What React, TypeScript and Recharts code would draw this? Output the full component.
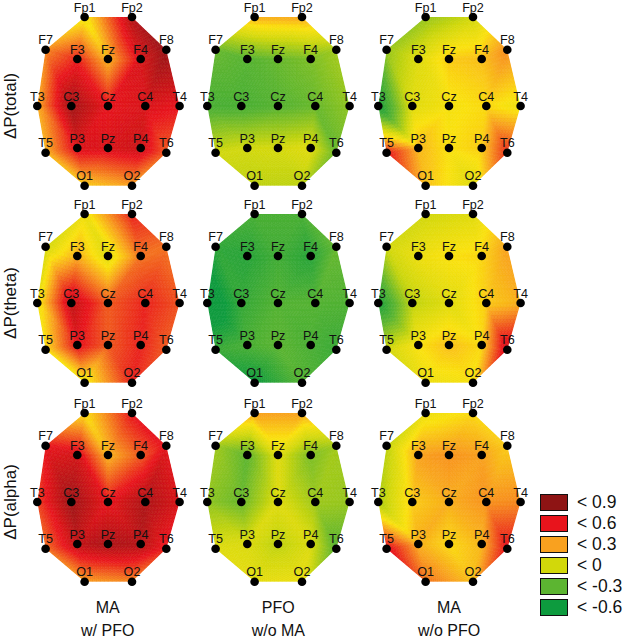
import { useId } from "react";
import { Scatter, ScatterChart, XAxis, YAxis } from "recharts";

// electrode layout, offsets from Cz
const electrodes = ["Fp1", "Fp2", "F7", "F3", "Fz", "F4", "F8", "T3", "C3", "Cz", "C4", "T4", "T5", "P3", "Pz", "P4", "T6", "O1", "O2"];
const electrodeX = [-23.4, 24, -62.4, -30.7, 0, 32.7, 58.3, -70.7, -36.7, 0, 37.3, 71.6, -62.4, -30.7, 0, 32.7, 58.3, -23.4, 24];
const electrodeY = [89, 89, 56.3, 47, 47, 47, 56.3, 0, 0, 0, 0, 0, -46.7, -42, -42, -42, -46.7, -79.7, -79.7];
const outline = ["Fp1", "Fp2", "F8", "T4", "T6", "O2", "O1", "T5", "T3", "F7"].map((n) => electrodes.indexOf(n));

// mesh the topography is shaded over
const mesh = [
  "Fp1 Fp2 Fz", "Fp1 Fz F3", "Fp1 F3 F7", "Fp2 F4 Fz", "Fp2 F8 F4",
  "F7 F3 C3", "F7 C3 T3", "F3 Cz C3", "F3 Fz Cz", "Fz F4 Cz", "F4 C4 Cz", "F4 F8 C4", "F8 T4 C4",
  "T3 C3 P3", "T3 P3 T5", "C3 Cz P3", "Cz Pz P3", "Cz P4 Pz", "Cz C4 P4", "C4 T6 P4", "C4 T4 T6",
  "T5 P3 O1", "P3 Pz O1", "Pz O2 O1", "Pz P4 O2", "P4 T6 O2",
].map((t) => t.split(" ").map((n) => electrodes.indexOf(n)));

const totalMaPfo = [-0.05, 0.62, 0.2, 0.42, 0.1, 0.5, 0.72, 0.12, 0.68, 0.45, 0.5, 0.45, 0.1, 0.5, 0.5, 0.55, 0.3, 0.05, 0.15];
const totalPfo = [0.12, 0.14, -0.42, -0.47, -0.42, -0.37, -0.27, -0.52, -0.52, -0.47, -0.42, -0.32, -0.15, -0.15, -0.14, -0.1, -0.42, -0.2, -0.2];
const totalMa = [-0.3, -0.15, -0.3, -0.1, 0.05, 0.08, 0.2, -0.72, -0.1, -0.02, 0.02, -0.05, 0.45, 0.1, 0, 0.05, 0.4, 0.08, -0.1];
const thetaMaPfo = [-0.05, 0.42, -0.15, 0.12, -0.1, 0.25, 0.25, -0.05, 0.58, 0.3, 0.42, 0.32, 0, 0.47, 0.3, 0.42, 0.3, -0.05, 0.42];
const thetaPfo = [-0.52, -0.52, -0.62, -0.65, -0.55, -0.65, -0.42, -0.9, -0.6, -0.48, -0.48, -0.5, -0.58, -0.52, -0.45, -0.52, -0.58, -0.75, -0.48];
const thetaMa = [-0.15, -0.1, -0.15, -0.05, 0, 0.03, 0.15, -0.7, -0.2, -0.1, 0.05, 0.12, -0.15, 0, 0.08, 0.02, 0.55, -0.05, -0.02];
const alphaMaPfo = [0, 0.45, 0.45, 0.52, 0.1, 0.3, 0.47, 0.35, 0.7, 0.45, 0.65, 0.5, 0.25, 0.58, 0.65, 0.62, 0.42, 0.15, 0.2];
const alphaPfo = [0.15, 0.15, -0.28, -0.45, -0.1, -0.37, -0.27, -0.32, -0.42, -0.1, -0.28, -0.3, -0.1, -0.12, -0.2, -0.12, -0.47, -0.08, -0.05];
const alphaMa = [-0.05, 0.02, -0.2, 0.15, 0.18, 0.15, 0.05, -0.25, 0.05, 0.12, 0.18, 0.2, 0.5, 0.12, 0.02, 0.1, 0.47, 0.25, 0.08];

const rows = [
  { label: "ΔP(total)", cy: 106, panels: [totalMaPfo, totalPfo, totalMa] },
  { label: "ΔP(theta)", cy: 303.3, panels: [thetaMaPfo, thetaPfo, thetaMa] },
  { label: "ΔP(alpha)", cy: 501.7, panels: [alphaMaPfo, alphaPfo, alphaMa] },
];
const columnCx = [107.7, 278.3, 449];
const columnTitles = [["MA", "w/ PFO"], ["PFO", "w/o MA"], ["MA", "w/o PFO"]];

const legendLabels = ["< 0.9", "< 0.6", "< 0.3", "< 0", "< -0.3", "< -0.6"];
const legendColors = ["#8e1414", "#e8141c", "#f9a11f", "#d2d80a", "#5cb531", "#0d9b3e"];

const colorStops: [number, number[]][] = [
  [-0.75, [13, 155, 62]],
  [-0.45, [92, 181, 49]],
  [-0.15, [210, 216, 10]],
  [0, [250, 225, 15]],
  [0.15, [249, 161, 31]],
  [0.45, [232, 20, 28]],
  [0.75, [142, 20, 20]],
];

function colorFor(v: number) {
  if (v <= colorStops[0][0]) return `rgb(${colorStops[0][1].join(",")})`;
  for (let i = 1; i < colorStops.length; i++) {
    const [v1, c1] = colorStops[i];
    if (v <= v1) {
      const [v0, c0] = colorStops[i - 1];
      const t = (v - v0) / (v1 - v0);
      return `rgb(${c0.map((c, k) => Math.round(c + (c1[k] - c) * t)).join(",")})`;
    }
  }
  return `rgb(${colorStops[colorStops.length - 1][1].join(",")})`;
}

const STEPS = 12;

// points come from the Scatter, already run through its axes
function Field({ points, values }: { points: { x: number; y: number }[]; values: number[] }) {
  const id = useId().replace(/:/g, "");
  const cells: any[] = [];
  mesh.forEach(([ia, ib, ic], m) => {
    const at = (a: number, b: number) => {
      const c = STEPS - a - b;
      const x = (points[ia].x * a + points[ib].x * b + points[ic].x * c) / STEPS;
      const y = (points[ia].y * a + points[ib].y * b + points[ic].y * c) / STEPS;
      return `${x.toFixed(2)},${y.toFixed(2)}`;
    };
    const valueAt = (a: number, b: number) => {
      const c = STEPS - a - b;
      return (values[ia] * a + values[ib] * b + values[ic] * c) / STEPS;
    };
    for (let a = 0; a < STEPS; a++) {
      for (let b = 0; a + b < STEPS; b++) {
        const up = colorFor(valueAt(a + 1 / 3, b + 1 / 3));
        cells.push(<polygon key={`${m}-${a}-${b}`} points={`${at(a, b)} ${at(a + 1, b)} ${at(a, b + 1)}`} fill={up} stroke={up} strokeWidth={0.6} />);
        if (a + b < STEPS - 1) {
          const down = colorFor(valueAt(a + 2 / 3, b + 2 / 3));
          cells.push(<polygon key={`${m}-${a}-${b}d`} points={`${at(a + 1, b)} ${at(a, b + 1)} ${at(a + 1, b + 1)}`} fill={down} stroke={down} strokeWidth={0.6} />);
        }
      }
    }
  });
  return (
    <g>
      <defs>
        <filter id={`soft${id}`} x="-5%" y="-5%" width="110%" height="110%">
          <feGaussianBlur stdDeviation={0.7} />
        </filter>
        <clipPath id={`hull${id}`}>
          <polygon points={outline.map((i) => `${points[i].x},${points[i].y}`).join(" ")} />
        </clipPath>
      </defs>
      <g clipPath={`url(#hull${id})`}>
        <g filter={`url(#soft${id})`}>{cells}</g>
      </g>
    </g>
  );
}

function Electrode(props: any) {
  return (
    <g>
      <circle cx={props.cx} cy={props.cy} r={4.3} fill="#000" />
      <text x={props.cx} y={props.cy - 5.5} textAnchor="middle" fontSize={12.6} fontFamily="Liberation Sans" fill="#111">
        {props.payload.name}
      </text>
    </g>
  );
}

function Topo({ values, cx, cy }: { values: number[]; cx: number; cy: number }) {
  const data = electrodes.map((name, i) => ({ name, x: electrodeX[i], y: electrodeY[i] }));
  return (
    <div style={{ position: "absolute", left: cx - 95, top: cy - 115 }}>
      <ScatterChart width={190} height={230} margin={{ top: 0, right: 0, bottom: 0, left: 0 }}>
        <XAxis type="number" dataKey="x" domain={[-95, 95]} hide />
        <YAxis type="number" dataKey="y" domain={[-115, 115]} hide />
        <Scatter
          data={data}
          isAnimationActive={false}
          line={(p: any) => <Field points={p.points} values={values} />}
          lineType="joint"
          shape={<Electrode />}
        />
      </ScatterChart>
    </div>
  );
}

export default function App() {
  return (
    <div style={{ position: "absolute", left: 0, top: 0, width: 624, height: 640, background: "#fff", fontFamily: "Liberation Sans", color: "#111", overflow: "hidden" }}>
      {rows.map((row) =>
        row.panels.map((values, c) => <Topo key={`${row.label}-${c}`} values={values} cx={columnCx[c]} cy={row.cy} />)
      )}
      {rows.map((row) => (
        <div
          key={row.label}
          style={{ position: "absolute", left: 10, top: row.cy, fontSize: 17, lineHeight: "17px", whiteSpace: "nowrap", transform: "translate(-50%, -50%) rotate(-90deg)" }}
        >
          {row.label}
        </div>
      ))}
      {columnTitles.map((lines, c) => (
        <div
          key={c}
          style={{ position: "absolute", left: columnCx[c] - 60, top: 596, width: 120, textAlign: "center", fontSize: 16, lineHeight: "23px" }}
        >
          {lines[0]}
          <br />
          {lines[1]}
        </div>
      ))}
      {legendLabels.map((label, i) => (
        <div key={label} style={{ position: "absolute", left: 540, top: 494 + i * 21, height: 17, display: "flex", alignItems: "center" }}>
          <div style={{ width: 26, height: 15, background: legendColors[i], border: "1px solid #111" }} />
          <div style={{ marginLeft: 9, fontSize: 17.5, whiteSpace: "nowrap" }}>{label}</div>
        </div>
      ))}
    </div>
  );
}
